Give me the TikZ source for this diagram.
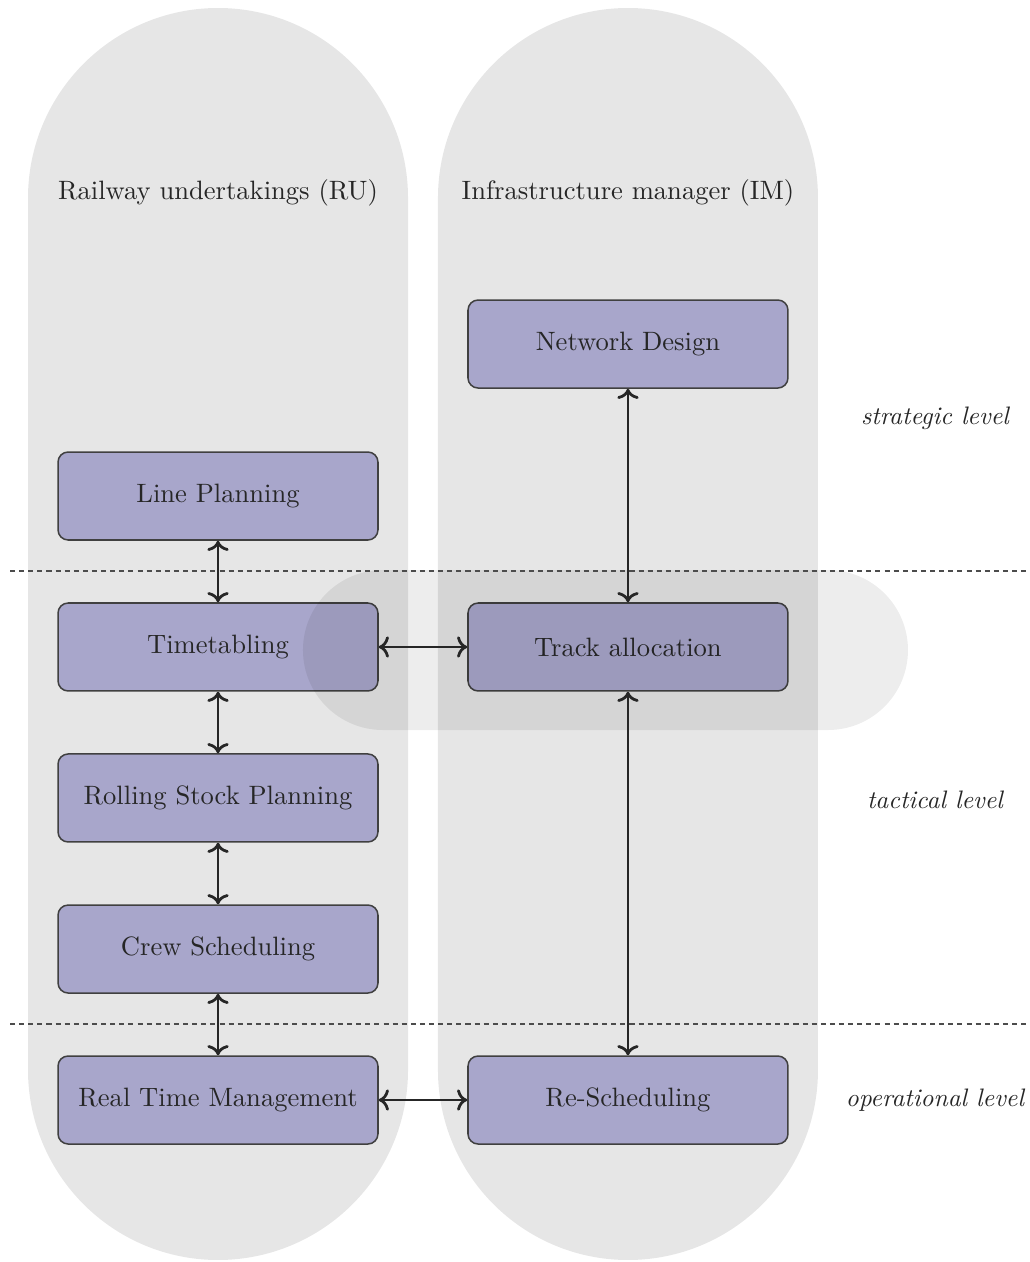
\documentclass[tikz,border=0pt]{standalone}
\usepackage{tikz}
\usetikzlibrary{arrows.meta,positioning}
\definecolor{lanegray}{HTML}{E6E6E6}
\definecolor{taskfill}{HTML}{A8A6CB}
\tikzset{lane/.style={fill=lanegray,rounded corners=2.639cm},crosslane/.style={fill=black,fill opacity=.07,rounded corners=1.111cm},task/.style={draw=black!75,fill=taskfill,rounded corners=4pt,line width=.6pt,minimum width=4.444cm,minimum height=1.222cm,text=black!85,font=\fontsize{10.5}{12.6}\selectfont},lanetitle/.style={text=black!85,font=\fontsize{10.5}{12.6}\selectfont},levellabel/.style={font=\itshape,text=black!85},levelline/.style={draw=black!70,line width=.8pt,dash pattern=on 2pt off 1.6pt},link/.style={<->,draw=black!85,line width=1.1pt}}

\begin{document}
\begin{tikzpicture}
\useasboundingbox (0,0) rectangle (14.292,-17.528);
% the two columns
\fill[lane] (0.389,-0.111) rectangle (5.667,-17.5);
\fill[lane] (6.083,-0.111) rectangle (11.361,-17.5);
\node[lanetitle] (ru) at (3.028,-2.681) {Railway undertakings (RU)};
\node[lanetitle] (im) at (8.722,-2.681) {Infrastructure manager (IM)};
% planning tasks
\node[task] (network) at (8.722,-4.778) {Network Design};
\node[task] (line) at (3.028,-6.889) {Line Planning};
\node[task] (timetable) at (3.028,-8.986) {Timetabling};
\node[task] (track) at (8.722,-8.986) {Track allocation};
\node[task] (stock) at (3.028,-11.083) {Rolling Stock Planning};
\node[task] (crew) at (3.028,-13.181) {Crew Scheduling};
\node[task] (realtime) at (3.028,-15.278) {Real Time Management};
\node[task] (resched) at (8.722,-15.278) {Re-Scheduling};
\fill[crosslane] (4.208,-7.917) rectangle (12.611,-10.139);
% levels
\draw[levelline] (0.139,-7.931) -- (14.292,-7.931);
\draw[levelline] (0.139,-14.222) -- (14.292,-14.222);
\node[levellabel] (strategic) at (12.986,-5.806) {strategic level};
\node[levellabel] (tactical) at (12.986,-11.111) {tactical level};
\node[levellabel] (operational) at (12.986,-15.278) {operational level};
\foreach \u/\v in {line/timetable,timetable/stock,stock/crew,crew/realtime,network/track,track/resched}{\draw[link] (\u.south)--(\v.north);}
\foreach \u/\v in {timetable/track,realtime/resched}{\draw[link] (\u)--(\v);}
\end{tikzpicture}
\end{document}
